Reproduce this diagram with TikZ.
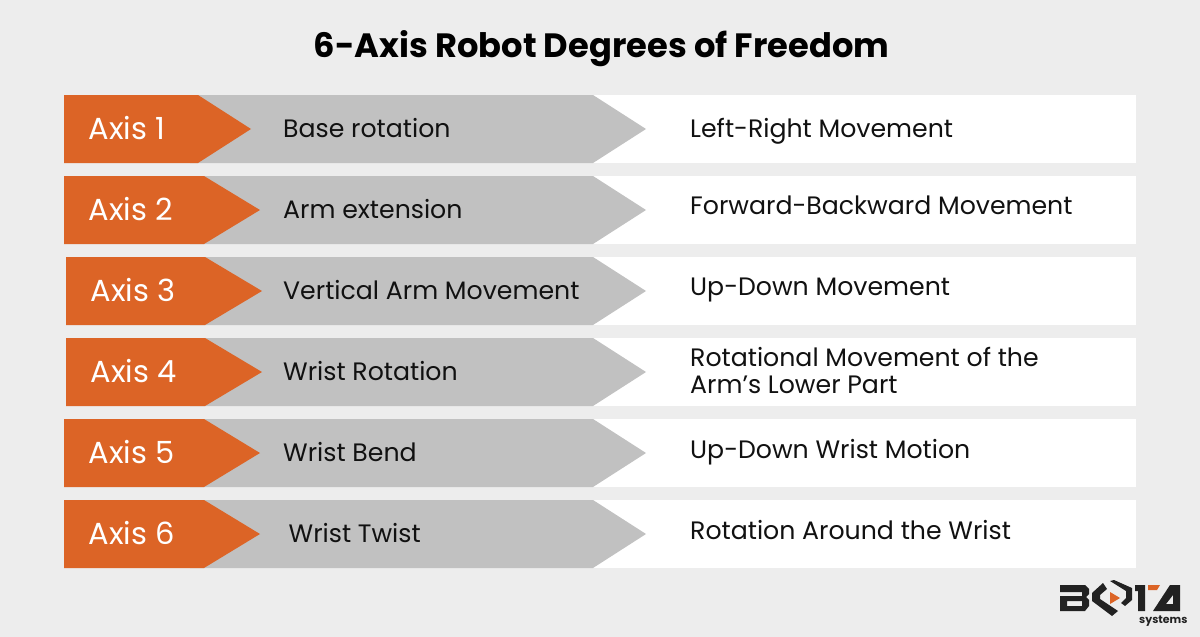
\documentclass[tikz,border=0pt]{standalone}
\usepackage{fontspec}
\setmainfont{Poppins}
\definecolor{bgc}{HTML}{EDEDED}
\definecolor{orangec}{HTML}{DC6426}
\definecolor{grayc}{HTML}{C1C1C1}
\definecolor{inkc}{HTML}{111111}
\definecolor{logoc}{HTML}{222222}
\tikzset{
 lab/.style={anchor=base west,inner sep=0pt,text=inkc,font=\fontsize{25.2}{30}\selectfont},
 axislab/.style={anchor=base west,inner sep=0pt,text=white,font=\fontsize{30.5}{36}\selectfont},
 whitebar/.style={fill=white,draw=none},
 graybar/.style={fill=grayc,draw=none},
 orangebar/.style={fill=orangec,draw=none},
 logopart/.style={fill=logoc,draw=none}
}
\newcommand{\myrow}[9]{%
 \fill[whitebar] (590,#2) rectangle (1136,#2+68);
 \fill[graybar] (190,#2) -- (593,#2) -- (646,#2+34) -- (593,#2+68) -- (190,#2+68) -- cycle;
 \fill[orangebar] (#3,#2) -- (#4,#2) -- (#5,#2+34) -- (#4,#2+68) -- (#3,#2+68) -- cycle;
 \node[axislab] (ax#1) at (#6,#2+44) {#7};
 \node[lab] (mid#1) at (#8,#2+42) {#9};
}
\begin{document}
\begin{tikzpicture}[x=1pt,y=-1pt]
\fill[bgc] (0,0) rectangle (1200,637);
\useasboundingbox (0,0) rectangle (1200,637);
\node[anchor=base,inner sep=0pt,text=black,font=\fontsize{33.7}{40}\selectfont\bfseries] (title) at (601.5,57) {6-Axis Robot Degrees of Freedom};
\myrow{1}{95}{64}{198}{251}{88.5}{Axis 1}{283}{Base rotation}
\myrow{2}{176}{64}{204}{260}{88.5}{Axis 2}{283}{Arm extension}
\myrow{3}{257}{66}{205}{262}{90.5}{Axis 3}{283}{Vertical Arm Movement}
\myrow{4}{338}{66}{205}{262}{90.5}{Axis 4}{283}{Wrist Rotation}
\myrow{5}{419}{64}{204}{260}{88.5}{Axis 5}{283}{Wrist Bend}
\myrow{6}{500}{64}{204}{260}{88.5}{Axis 6}{288.5}{Wrist Twist}
\node[lab] (r1) at (690,137) {Left-Right Movement};
\node[lab] (r2) at (690,214.5) {Forward-Backward Movement};
\node[lab] (r3) at (690,295.5) {Up-Down Movement};
\node[lab] (r4a) at (690,366) {Rotational Movement of the};
\node[lab] (r4b) at (690,393) {Arm’s Lower Part};
\node[lab] (r5) at (690,458) {Up-Down Wrist Motion};
\node[lab] (r6) at (690,539) {Rotation Around the Wrist};
% logo
\fill[logopart,even odd rule] (1060,585) -- (1085,585) -- (1089,589) -- (1089,594) -- (1086,597) -- (1089,600) -- (1089,606) -- (1085,611) -- (1060,611) -- (1060,596) -- (1082,596) -- (1082,592) -- (1060,592) -- cycle
 (1067,601) rectangle (1082,606);
\fill[logopart] (1103,583) -- (1092,593) -- (1092,601) -- (1112,616) -- (1118,611) -- (1100,599) -- (1100,595) -- (1107,589) -- cycle;
\fill[logopart] (1110,581) -- (1114,580) -- (1132,588) -- (1132,600) -- (1125,606) -- (1121,603) -- (1126,598) -- (1126,591) -- cycle;
\fill[orangec] (1110,592) -- (1120,598) -- (1110,604) -- cycle;
\fill[logopart] (1135,585) -- (1145,585) -- (1145,611) -- (1138,611) -- (1138,591) -- (1135,591) -- cycle;
\fill[orangec] (1148,585) -- (1160,585) -- (1157,590) -- (1148,590) -- cycle;
\fill[logopart,even odd rule] (1153,611) -- (1170,585) -- (1180,585) -- (1180,611) -- cycle (1173,595) -- (1173,604) -- (1166,604) -- cycle;
\node[anchor=base west,inner sep=0pt,text=logoc,font=\fontsize{11}{12}\selectfont\bfseries] (sys) at (1139,623) {systems};
\end{tikzpicture}
\end{document}
